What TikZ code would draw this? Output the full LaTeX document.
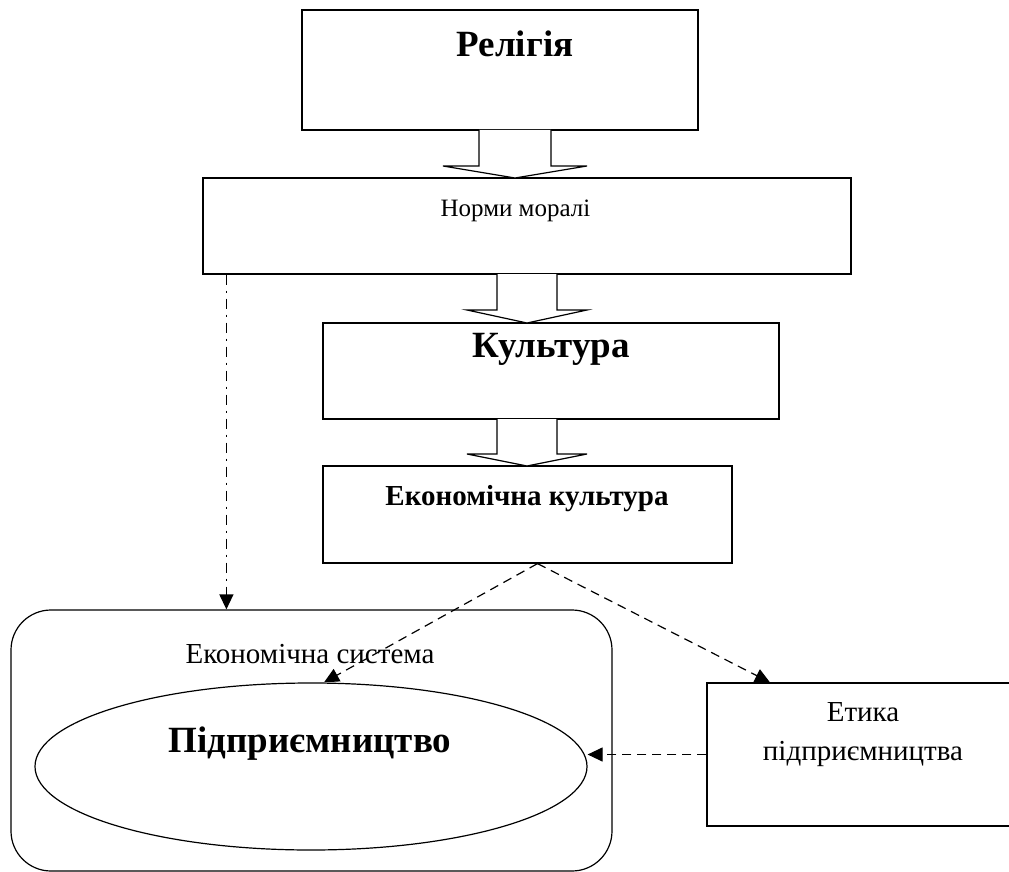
\documentclass[tikz,border=0pt]{standalone}
\usepackage{fontspec}
\setmainfont{Liberation Serif}
\usetikzlibrary{arrows.meta,shapes.geometric}

\tikzset{every picture/.style={line width=1.2pt}}
\tikzset{
  box/.style={draw, rectangle, inner sep=0pt},
  bigarrow/.style={draw, fill=white, line join=miter},
  tip/.style={-{Triangle[length=15pt,width=14pt]}},
  dashlink/.style={tip, dash pattern=on 9pt off 6pt},
  dashdotlink/.style={tip, dash pattern=on 10pt off 6pt on 2pt off 6pt},
  plain/.style={font=\fontsize{29}{39}\selectfont, inner sep=0pt, anchor=base},
  heavy/.style={font=\fontsize{37}{44}\selectfont\bfseries, inner sep=0pt, anchor=base},
}

\begin{document}
\begin{tikzpicture}[x=1pt,y=1pt,yscale=-1,xscale=1]
\useasboundingbox (0,0) rectangle (1009,872);

%Shape: Rectangle [religion]
\node [box, minimum width=396pt, minimum height=120pt] (rel) at (500,70) {};
%Shape: Rectangle [norms]
\node [box, minimum width=648pt, minimum height=96pt] (norm) at (527,226) {};
%Shape: Rectangle [culture]
\node [box, minimum width=456pt, minimum height=96pt] (cult) at (551,371) {};
%Shape: Rectangle [economic culture]
\node [box, minimum width=409pt, minimum height=97pt] (eco) at (527.5,514.5) {};
%Shape: Rounded Rectangle [economic system]
\node [box, rounded corners=40pt, minimum width=601pt, minimum height=261pt] (sys) at (311.5,740.5) {};
%Shape: Ellipse [entrepreneurship]
\node [draw, ellipse, inner sep=0pt, minimum width=552pt, minimum height=167pt] (ent) at (311,766.5) {};
%Shape: Rectangle [ethics]
\node [box, minimum width=312pt, minimum height=143pt] (eth) at (863,754.5) {};

%Shape: Down Arrow
\draw [bigarrow] (479,130) -- (479,166) -- (443,166) -- (515,178) -- (587,166) -- (551,166) -- (551,130) ;
%Shape: Down Arrow
\draw [bigarrow] (497,274) -- (497,310) -- (467,310) -- (527,323) -- (587,310) -- (557,310) -- (557,274) ;
%Shape: Down Arrow
\draw [bigarrow] (497,419) -- (497,454) -- (467,454) -- (527,466) -- (587,454) -- (557,454) -- (557,419) ;

%Straight Lines
\draw [dashdotlink] ([xshift=24pt]norm.south west) -- ([xshift=24pt]norm.south west |- sys.north) ;
%Straight Lines
\draw [dashlink] ([xshift=10pt]eco.south) -- ([xshift=13pt]ent.north) ;
%Straight Lines
\draw [dashlink] ([xshift=10pt]eco.south) -- ([xshift=-93pt]eth.north) ;
%Straight Lines
\draw [dashlink] (eth.west) -- (eth.west -| ent.east) ;

% Text Node
\node [heavy] (relT) at (515,57) {Релігія};
% Text Node
\node [plain, font=\fontsize{25}{30}\selectfont, anchor=base west] (normT) at (440,216) {Норми моралі};
% Text Node
\node [heavy] (cultT) at (551,357) {Культура};
% Text Node
\node [plain, font=\fontsize{29}{35}\selectfont\bfseries] (ecoT) at (527,505) {Економічна культура};
% Text Node
\node [plain] (sysT) at (310,663) {Економічна система};
% Text Node
\node [heavy] (entT) at (310,752) {Підприємництво};
% Text Node
\node [plain] (ethTa) at (863,721) {Етика};
% Text Node
\node [plain] (ethTb) at (863,760) {підприємництва};

\end{tikzpicture}
\end{document}
